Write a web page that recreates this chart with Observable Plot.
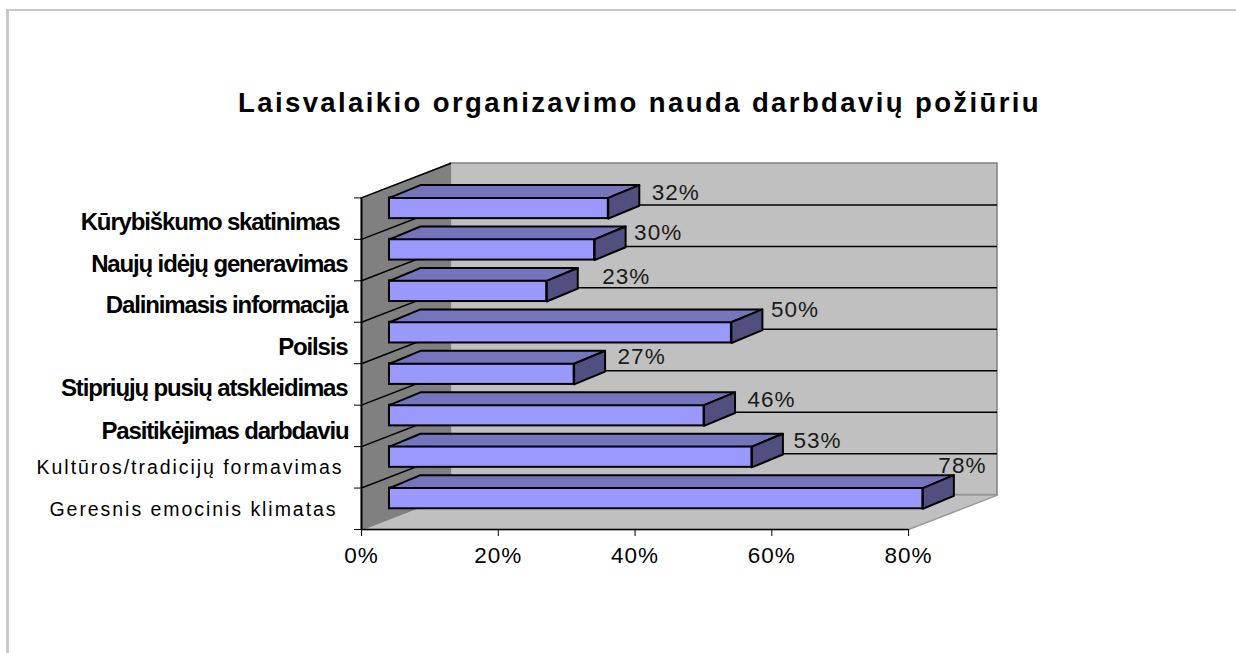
<!DOCTYPE html>
<html><head><meta charset="utf-8">
<script src="https://cdn.jsdelivr.net/npm/d3@7"></script>
<script src="https://cdn.jsdelivr.net/npm/@observablehq/plot@0.6"></script>
<style>
html,body{margin:0;padding:0;background:#fff;overflow:hidden;width:1236px;height:653px}
#frame{position:absolute;left:6px;top:9px;right:0;bottom:0;border-left:3px solid #c8c8c8;border-top:2px solid #c8c8c8}
#title{position:relative;height:150px;box-sizing:border-box;padding:91px 0 0 238px;font:bold 27.5px/24px "Liberation Sans",Arial,sans-serif;letter-spacing:2.4px;color:#000;white-space:nowrap}
#chart{position:relative}
svg{display:block}
.tight text{letter-spacing:-1.15px}
.wide text{letter-spacing:1.95px}
.spaced text{letter-spacing:1px}
</style></head><body>
<div id="frame"></div>
<div id="title">Laisvalaikio organizavimo nauda darbdavių požiūriu</div>
<div id="chart"></div>
<script>
const categories = ["Kūrybiškumo skatinimas","Naujų idėjų generavimas","Dalinimasis informacija","Poilsis","Stipriųjų pusių atskleidimas","Pasitikėjimas darbdaviu","Kultūros/tradicijų formavimas","Geresnis emocinis klimatas"];
const values = [32,30,23,50,27,46,53,78];
const ticks = [0,20,40,60,80];

// 3D look: depth shift of walls and bars, in axis units
const wallX = 13, wallY = 0.83, topX = 93;
const barStart = 4.09, barX = 4.53, barY = 0.31, barLow = 0.5, barHigh = 1;
const rows = categories.length;
const bars = categories.map((name,i)=>({name,value:values[i],row:rows-1-i}));
const poly = (id,pts)=>pts.map(([x,y])=>({id,x,y}));

const leftWall = poly("l",[[0,0],[wallX,wallY],[wallX,rows+wallY],[0,rows],[0,0]]);
const floor = poly("f",[[0,0],[80,0],[80+wallX,wallY],[wallX,wallY],[0,0]]);
const topFaces = bars.flatMap(b=>{const e=barStart+b.value,l=b.row+barHigh;
  return poly("t"+b.row,[[barStart,l],[e,l],[e+barX,l+barY],[barStart+barX,l+barY],[barStart,l]]);});
const sideFaces = bars.flatMap(b=>{const e=barStart+b.value,h=b.row+barHigh,l=b.row+barLow;
  return poly("s"+b.row,[[e,l],[e,h],[e+barX,h+barY],[e+barX,l+barY],[e,l]]);});
const diagonals = d3.range(0,rows+1).flatMap(r=>poly("d"+r,[[0,r],[wallX,r+wallY]]));
const rowsInner = d3.range(1,rows);

const line = {x:"x",y:"y",z:"id"};
// [label dx, dy] of each hand-placed value label, in pixels
const nudge = [[67.5,-5],[63.5,-7],[79.5,-4],[63.5,-12],[67.5,-7],[67.5,-5],[65.5,-6],[39.5,-22]];
// [end shift, dy] of each category label, in pixels
const nameShift = [[-8,4],[0,4],[0,4],[0,4],[0,4],[1,5],[-4,0],[-10,1]];

const nameMarks = bars.map((b,i)=>Plot.text([b],{
  x:()=>0,y:d=>d.row+0.5,text:"name",textAnchor:"end",
  dx:-14+nameShift[i][0],dy:nameShift[i][1],
  fontSize:i<6?24:19.5,fontWeight:i<6?"bold":"normal",fill:"#000",
  className:i<6?"tight":"wide"}));
const valueMarks = bars.map((b,i)=>Plot.text([b],{
  x:d=>barStart+d.value,y:d=>d.row+barHigh,text:d=>d.value+"%",
  dx:nudge[i][0],dy:nudge[i][1],fontSize:22.5,fill:"#1a1a1a",className:"spaced"}));

const chart = Plot.plot({
  width:1236,height:503,
  marginLeft:361,marginRight:239,marginTop:13,marginBottom:124,
  style:{background:"transparent",fontFamily:'"Liberation Sans",Arial,sans-serif'},
  x:{domain:[0,topX],label:null},
  y:{domain:[0,rows+wallY],label:null},
  marks:[
    Plot.rect([0],{x1:wallX,x2:topX,y1:wallY,y2:rows+wallY,fill:"#c0c0c0",stroke:"#808080",strokeWidth:1.5}),
    Plot.line(floor,{...line,fill:"#c0c0c0",stroke:"#9a9a9a",strokeWidth:1.5}),
    Plot.line(leftWall,{...line,fill:"#808080",stroke:"#808080"}),
    Plot.ruleY(rowsInner,{y:d=>d+wallY,x1:wallX,x2:topX,stroke:"#000",strokeWidth:1.5}),
    Plot.line(diagonals.filter(d=>d.id!=="d0"),{...line,stroke:"#000",strokeWidth:1.5}),
    Plot.rect(bars,{x1:()=>barStart,x2:d=>barStart+d.value,y1:d=>d.row+barLow,y2:d=>d.row+barHigh,fill:"#9999ff",stroke:"#000",strokeWidth:2}),
    Plot.line(topFaces,{...line,fill:"#7575bd",stroke:"#000",strokeWidth:2}),
    Plot.line(sideFaces,{...line,fill:"#4f4f80",stroke:"#000",strokeWidth:2}),
    Plot.ruleX([0],{y1:0,y2:rows,stroke:"#000",strokeWidth:2}),
    Plot.ruleY([0],{x1:0,x2:80,stroke:"#000",strokeWidth:1.5}),
    Plot.axisX({ticks,tickFormat:d=>d+"%",tickSize:7,tickPadding:11,fontSize:22.5,color:"#000",label:null,className:"spaced"}),
    Plot.axisY({ticks:d3.range(0,rows+1),tickFormat:()=>"",tickSize:7,label:null,color:"#000"}),
    ...nameMarks,
    ...valueMarks
  ]
});
document.getElementById("chart").appendChild(chart);
</script>
</body></html>
